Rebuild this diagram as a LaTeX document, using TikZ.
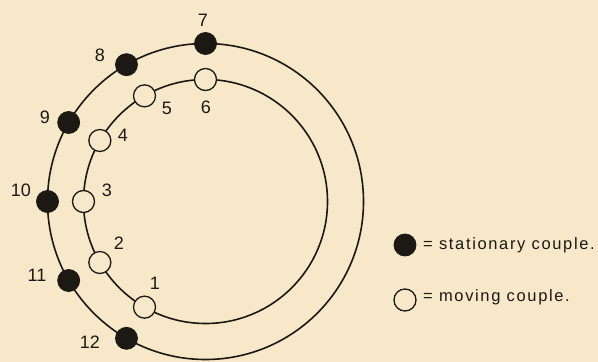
\documentclass[tikz,border=0pt]{standalone}
\usepackage{fontspec}
\usetikzlibrary{calc}
\setmainfont{Liberation Sans}
\newfontfamily\legendfont[LetterSpace=10]{Liberation Sans}
\definecolor{paper}{RGB}{246,232,200}
\definecolor{ink}{RGB}{28,24,20}
\begin{document}
\begin{tikzpicture}[x=1pt,y=1pt,
  ring/.style={draw=ink,line width=1.6pt},
  fixedc/.style={circle,fill=ink,draw=ink,line width=0.8pt,minimum size=22pt,inner sep=0pt},
  movec/.style={circle,fill=paper,draw=ink,line width=1.3pt,minimum size=22pt,inner sep=0pt},
  num/.style={font=\fontsize{18}{18}\selectfont,text=ink,inner sep=0pt},
  legtext/.style={font=\legendfont\fontsize{16.5}{17}\selectfont,text=ink,inner sep=0pt,anchor=base west}]
\fill[paper] (0,0) rectangle (598,362);
\useasboundingbox (0,0) rectangle (598,362);
\coordinate (c) at (205.5,160.5);
\draw[ring] (c) circle (158);
\draw[ring] (c) circle (122);
% stationary couples (outer ring)
\foreach \n/\a in {7/90,8/120,9/150,10/180,11/210,12/240}{
  \node[fixedc] (s\n) at ($(c)+(\a:158)$) {};
}
% moving couples (inner ring)
\foreach \n/\a in {6/90,5/120,4/150,3/180,2/210,1/240}{
  \node[movec] (m\n) at ($(c)+(\a:122)$) {};
}
% labels
\node[num] (l7) at (203,342) {7};
\node[num] (l8) at (100,307) {8};
\node[num] (l9) at (45,245) {9};
\node[num] (l10) at (21,172) {10};
\node[num] (l11) at (37,87) {11};
\node[num] (l12) at (90,20) {12};
\node[num] (l6) at (206,255) {6};
\node[num] (l5) at (167,254) {5};
\node[num] (l4) at (123,227) {4};
\node[num] (l3) at (107,172) {3};
\node[num] (l2) at (119,119) {2};
\node[num] (l1) at (155,79) {1};
% legend
\node[fixedc] (k1) at (405,117) {};
\node[movec] (k2) at (405,62) {};
\node[legtext] (t1) at (423,112) {= stationary couple.};
\node[legtext] (t2) at (423,60) {= moving couple.};
\end{tikzpicture}
\end{document}
